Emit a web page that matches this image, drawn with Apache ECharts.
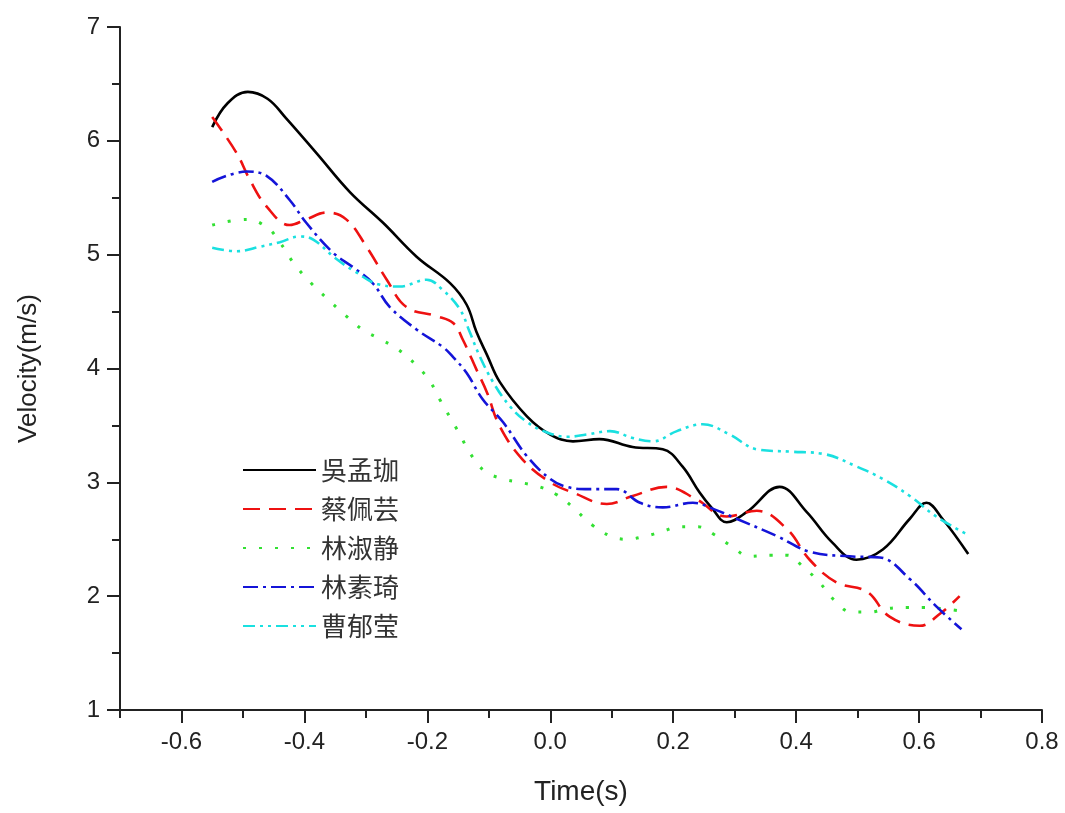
<!DOCTYPE html>
<html>
<head>
<meta charset="utf-8">
<script src="https://cdn.jsdelivr.net/npm/echarts@6/dist/echarts.min.js"></script>
<style>
html,body{margin:0;padding:0;background:#fff;}
#chart{width:1065px;height:813px;}
</style>
</head>
<body>
<div id="chart"></div>
<script>
// ---- data (time in s, velocity in m/s) ----
const seriesNames = ['吳孟珈', '蔡佩芸', '林淑静', '林素琦', '曹郁莹'];

const wuMengjia = [[-0.55,6.12],[-0.525,6.33],[-0.492,6.43],[-0.46,6.37],[-0.43,6.20],[-0.38,5.89],[-0.326,5.55],[-0.272,5.28],[-0.217,4.98],[-0.163,4.75],[-0.136,4.56],[-0.12,4.32],[-0.103,4.12],[-0.082,3.88],[-0.038,3.58],[0.0,3.42],[0.037,3.36],[0.08,3.38],[0.134,3.31],[0.183,3.29],[0.215,3.14],[0.243,2.91],[0.262,2.78],[0.287,2.65],[0.32,2.74],[0.373,2.96],[0.417,2.74],[0.459,2.47],[0.498,2.32],[0.541,2.41],[0.585,2.68],[0.612,2.82],[0.638,2.68],[0.68,2.37]];

const caiPeiyun = [[-0.55,6.21],[-0.51,5.89],[-0.489,5.66],[-0.461,5.42],[-0.424,5.26],[-0.397,5.31],[-0.364,5.37],[-0.332,5.31],[-0.299,5.07],[-0.266,4.78],[-0.234,4.54],[-0.185,4.46],[-0.158,4.40],[-0.142,4.25],[-0.12,3.99],[-0.103,3.79],[-0.082,3.49],[-0.045,3.20],[0.0,3.0],[0.037,2.91],[0.092,2.81],[0.134,2.88],[0.189,2.96],[0.238,2.85],[0.287,2.70],[0.336,2.75],[0.385,2.59],[0.422,2.32],[0.466,2.12],[0.515,2.04],[0.552,1.82],[0.601,1.74],[0.635,1.85],[0.666,2.0]];

const linShujing = [[-0.55,5.26],[-0.494,5.31],[-0.461,5.24],[-0.44,5.11],[-0.418,4.93],[-0.391,4.76],[-0.364,4.62],[-0.334,4.47],[-0.305,4.34],[-0.274,4.25],[-0.248,4.17],[-0.22,4.04],[-0.196,3.89],[-0.18,3.73],[-0.163,3.57],[-0.147,3.42],[-0.131,3.26],[-0.107,3.10],[-0.077,3.03],[-0.05,3.0],[-0.017,2.96],[0.011,2.89],[0.037,2.78],[0.067,2.63],[0.097,2.53],[0.124,2.50],[0.157,2.53],[0.183,2.57],[0.211,2.61],[0.24,2.61],[0.267,2.54],[0.297,2.43],[0.324,2.35],[0.357,2.36],[0.385,2.36],[0.411,2.26],[0.438,2.12],[0.463,1.96],[0.49,1.86],[0.52,1.86],[0.547,1.89],[0.58,1.90],[0.606,1.90],[0.638,1.89],[0.666,1.87]];

const linSuqi = [[-0.55,5.64],[-0.494,5.73],[-0.461,5.69],[-0.424,5.48],[-0.397,5.28],[-0.354,5.02],[-0.321,4.89],[-0.289,4.75],[-0.261,4.54],[-0.217,4.34],[-0.175,4.19],[-0.158,4.10],[-0.136,3.96],[-0.11,3.73],[-0.077,3.53],[-0.038,3.23],[0.0,3.03],[0.027,2.96],[0.064,2.94],[0.108,2.94],[0.146,2.82],[0.183,2.78],[0.232,2.82],[0.268,2.76],[0.303,2.68],[0.368,2.53],[0.422,2.39],[0.487,2.35],[0.536,2.34],[0.585,2.15],[0.628,1.91],[0.669,1.71]];

const caoYuying = [[-0.55,5.06],[-0.51,5.03],[-0.472,5.07],[-0.44,5.11],[-0.407,5.16],[-0.385,5.13],[-0.35,4.97],[-0.32,4.86],[-0.28,4.74],[-0.245,4.72],[-0.201,4.78],[-0.175,4.69],[-0.147,4.52],[-0.131,4.32],[-0.115,4.11],[-0.093,3.88],[-0.066,3.67],[-0.038,3.53],[-0.006,3.44],[0.027,3.40],[0.059,3.42],[0.097,3.45],[0.134,3.39],[0.167,3.36],[0.206,3.45],[0.248,3.51],[0.292,3.42],[0.336,3.29],[0.39,3.27],[0.444,3.25],[0.498,3.14],[0.541,3.03],[0.585,2.88],[0.628,2.70],[0.679,2.54]];

const xMajorTicks = [-0.6, -0.4, -0.2, 0.0, 0.2, 0.4, 0.6, 0.8];
const yTicks = [1, 2, 3, 4, 5, 6, 7];

// ---- styles ----
const seriesData = [wuMengjia, caiPeiyun, linShujing, linSuqi, caoYuying];
const colors = ['#000000', '#ee1111', '#33e033', '#1414d8', '#1ae0e0'];
const dashes = ['solid', [17, 9], [3, 13], [15, 5, 3, 5], [12, 5, 3, 5, 3, 5]];

const txt = '#222';
const labelFont = "'Liberation Sans', Arial, sans-serif";

const chart = echarts.init(document.getElementById('chart'), null, {renderer: 'canvas'});

const option = {
  backgroundColor: '#fff',
  animation: false,
  grid: {left: 120, right: 23, top: 27, bottom: 103, containLabel: false},
  legend: {
    orient: 'vertical',
    left: 237,
    top: 450,
    itemWidth: 73,
    itemHeight: 14,
    itemGap: 9,
    data: seriesNames,
    itemStyle: {opacity: 0, borderWidth: 0},
    textStyle: {fontSize: 26, lineHeight: 30, color: '#333', fontFamily: "'Noto Sans CJK TC', 'Noto Sans CJK SC', sans-serif"}
  },
  xAxis: [{
    type: 'value',
    min: -0.7, max: 0.8,
    name: 'Time(s)',
    nameLocation: 'middle',
    nameGap: 68,
    nameTextStyle: {fontSize: 28, color: txt, fontFamily: labelFont},
    axisLine: {show: true, onZero: false, lineStyle: {color: txt, width: 2}},
    axisTick: {show: true, length: 13, lineStyle: {color: txt, width: 2}, customValues: xMajorTicks},
    axisLabel: {show: true, margin: 20, fontSize: 24, color: txt, fontFamily: labelFont,
      customValues: xMajorTicks, formatter: v => v.toFixed(1)},
    splitLine: {show: false}
  }, {
    type: 'value',
    min: -0.7, max: 0.8, interval: 0.1,
    position: 'bottom',
    axisLine: {show: false, onZero: false},
    axisTick: {show: true, length: 8, lineStyle: {color: txt, width: 2}},
    axisLabel: {show: false},
    splitLine: {show: false}
  }],
  yAxis: {
    type: 'value',
    min: yTicks[0], max: yTicks[yTicks.length - 1], interval: 1,
    name: 'Velocity(m/s)',
    nameLocation: 'middle',
    nameGap: 78,
    nameRotate: 90,
    nameTextStyle: {fontSize: 26, color: txt, fontFamily: labelFont},
    axisLine: {show: true, onZero: false, lineStyle: {color: txt, width: 2}},
    axisTick: {show: true, length: 13, lineStyle: {color: txt, width: 2}},
    minorTick: {show: true, splitNumber: 2, length: 8, lineStyle: {color: txt, width: 2}},
    axisLabel: {margin: 20, fontSize: 24, color: txt, fontFamily: labelFont},
    splitLine: {show: false},
    minorSplitLine: {show: false}
  },
  series: seriesNames.map((name, i) => ({
    name: name,
    type: 'line',
    xAxisIndex: 0,
    data: seriesData[i],
    smooth: 0.4,
    symbol: 'none',
    color: colors[i],
    lineStyle: {color: colors[i], width: i === 2 ? 3 : 2.6, type: dashes[i]}
  }))
};

chart.setOption(option);
</script>
</body>
</html>
